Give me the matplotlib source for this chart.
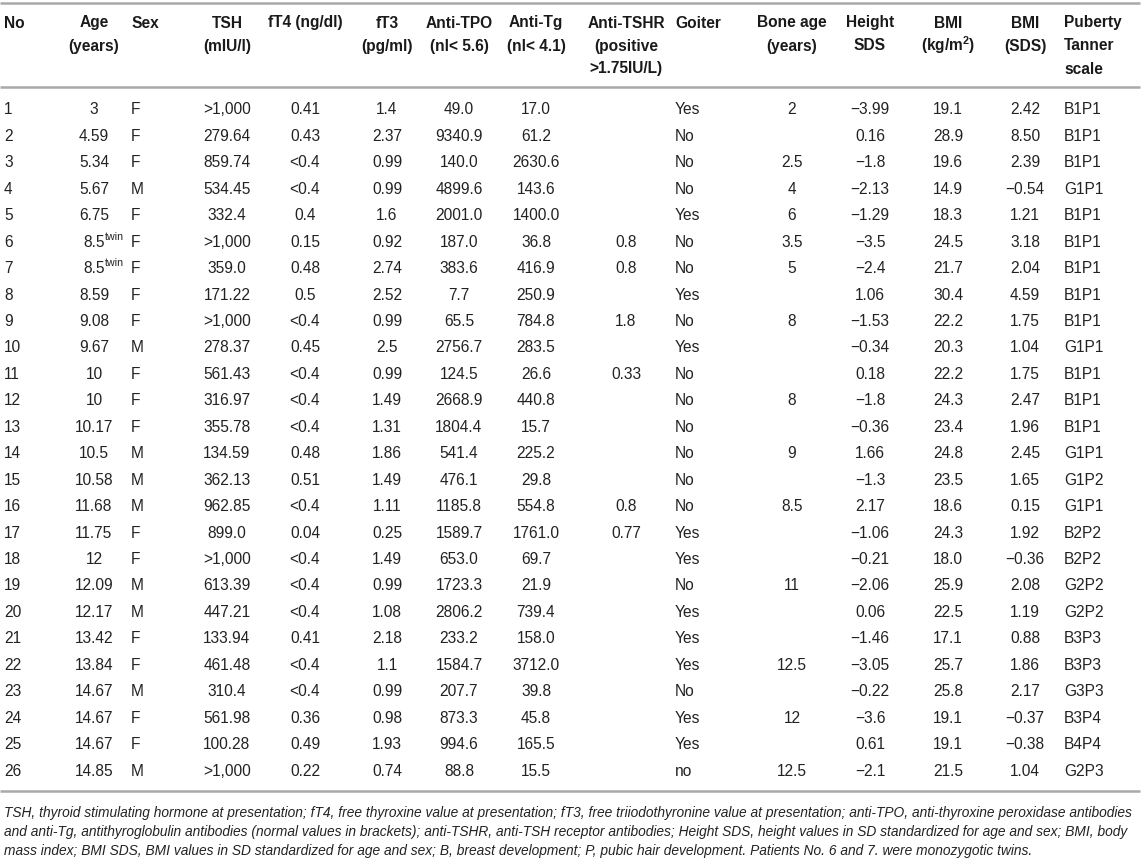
import matplotlib
matplotlib.use("Agg")
import matplotlib.pyplot as plt

plt.rcParams['font.family'] = ['Liberation Sans', 'DejaVu Sans']
plt.rcParams['mathtext.fontset'] = 'custom'
plt.rcParams['mathtext.rm'] = 'Liberation Sans'
plt.rcParams['mathtext.bf'] = 'Liberation Sans:bold'
plt.rcParams['mathtext.it'] = 'Liberation Sans:italic'

# table data, one list per column
no = [str(i) for i in range(1, 27)]
age = ["3", "4.59", "5.34", "5.67", "6.75", "8.5", "8.5", "8.59", "9.08", "9.67", "10", "10",
       "10.17", "10.5", "10.58", "11.68", "11.75", "12", "12.09", "12.17", "13.42", "13.84",
       "14.67", "14.67", "14.67", "14.85"]
age_note = ["", "", "", "", "", "twin", "twin", "", "", "", "", "", "", "", "", "", "", "", "",
            "", "", "", "", "", "", ""]
sex = ["F", "F", "F", "M", "F", "F", "F", "F", "F", "M", "F", "F", "F", "M", "M", "M",
       "F", "F", "M", "M", "F", "F", "M", "F", "F", "M"]
tsh = [">1,000", "279.64", "859.74", "534.45", "332.4", ">1,000", "359.0", "171.22", ">1,000",
       "278.37", "561.43", "316.97", "355.78", "134.59", "362.13", "962.85", "899.0", ">1,000",
       "613.39", "447.21", "133.94", "461.48", "310.4", "561.98", "100.28", ">1,000"]
ft4 = ["0.41", "0.43", "<0.4", "<0.4", "0.4", "0.15", "0.48", "0.5", "<0.4", "0.45", "<0.4",
       "<0.4", "<0.4", "0.48", "0.51", "<0.4", "0.04", "<0.4", "<0.4", "<0.4", "0.41", "<0.4",
       "<0.4", "0.36", "0.49", "0.22"]
ft3 = ["1.4", "2.37", "0.99", "0.99", "1.6", "0.92", "2.74", "2.52", "0.99", "2.5", "0.99",
       "1.49", "1.31", "1.86", "1.49", "1.11", "0.25", "1.49", "0.99", "1.08", "2.18", "1.1",
       "0.99", "0.98", "1.93", "0.74"]
anti_tpo = ["49.0", "9340.9", "140.0", "4899.6", "2001.0", "187.0", "383.6", "7.7", "65.5",
            "2756.7", "124.5", "2668.9", "1804.4", "541.4", "476.1", "1185.8", "1589.7", "653.0",
            "1723.3", "2806.2", "233.2", "1584.7", "207.7", "873.3", "994.6", "88.8"]
anti_tg = ["17.0", "61.2", "2630.6", "143.6", "1400.0", "36.8", "416.9", "250.9", "784.8",
           "283.5", "26.6", "440.8", "15.7", "225.2", "29.8", "554.8", "1761.0", "69.7", "21.9",
           "739.4", "158.0", "3712.0", "39.8", "45.8", "165.5", "15.5"]
anti_tshr = ["", "", "", "", "", "0.8", "0.8", "", "1.8", "", "0.33", "", "", "", "", "0.8",
             "0.77", "", "", "", "", "", "", "", "", ""]
goiter = ["Yes", "No", "No", "No", "Yes", "No", "No", "Yes", "No", "Yes", "No", "No", "No",
          "No", "No", "No", "Yes", "Yes", "No", "Yes", "Yes", "Yes", "No", "Yes", "Yes", "no"]
bone_age = ["2", "", "2.5", "4", "6", "3.5", "5", "", "8", "", "", "8", "", "9", "", "8.5",
            "", "", "11", "", "", "12.5", "", "12", "", "12.5"]
height_sds = ["\u22123.99", "0.16", "\u22121.8", "\u22122.13", "\u22121.29", "\u22123.5",
              "\u22122.4", "1.06", "\u22121.53", "\u22120.34", "0.18", "\u22121.8", "\u22120.36",
              "1.66", "\u22121.3", "2.17", "\u22121.06", "\u22120.21", "\u22122.06", "0.06",
              "\u22121.46", "\u22123.05", "\u22120.22", "\u22123.6", "0.61", "\u22122.1"]
bmi = ["19.1", "28.9", "19.6", "14.9", "18.3", "24.5", "21.7", "30.4", "22.2", "20.3", "22.2",
       "24.3", "23.4", "24.8", "23.5", "18.6", "24.3", "18.0", "25.9", "22.5", "17.1", "25.7",
       "25.8", "19.1", "19.1", "21.5"]
bmi_sds = ["2.42", "8.50", "2.39", "\u22120.54", "1.21", "3.18", "2.04", "4.59", "1.75", "1.04",
           "1.75", "2.47", "1.96", "2.45", "1.65", "0.15", "1.92", "\u22120.36", "2.08", "1.19",
           "0.88", "1.86", "2.17", "\u22120.37", "\u22120.38", "1.04"]
puberty = ["B1P1", "B1P1", "B1P1", "G1P1", "B1P1", "B1P1", "B1P1", "B1P1", "B1P1", "G1P1",
           "B1P1", "B1P1", "B1P1", "G1P1", "G1P2", "G1P1", "B2P2", "B2P2", "G2P2", "G2P2",
           "B3P3", "B3P3", "G3P3", "B3P4", "B4P4", "G2P3"]

headers = [["No"], ["Age", "(years)"], ["Sex"], ["TSH", "(mIU/l)"], ["fT4 (ng/dl)"],
           ["fT3", "(pg/ml)"], ["Anti-TPO", "(nl< 5.6)"], ["Anti-Tg", "(nl< 4.1)"],
           ["Anti-TSHR", "(positive", ">1.75IU/L)"], ["Goiter"], ["Bone age", "(years)"],
           ["Height", "SDS"], ["BMI", r"(kg/m$^{\mathbf{2}}$)"], ["BMI", "(SDS)"],
           ["Puberty", "Tanner", "scale"]]

footnote = [
    "TSH, thyroid stimulating hormone at presentation; fT4, free thyroxine value at presentation; "
    "fT3, free triiodothyronine value at presentation; anti-TPO, anti-thyroxine peroxidase antibodies",
    "and anti-Tg, antithyroglobulin antibodies (normal values in brackets); anti-TSHR, anti-TSH "
    "receptor antibodies; Height SDS, height values in SD standardized for age and sex; BMI, body",
    "mass index; BMI SDS, BMI values in SD standardized for age and sex; B, breast development; "
    "P, pubic hair development. Patients No. 6 and 7. were monozygotic twins.",
]

columns = [no, age, sex, tsh, ft4, ft3, anti_tpo, anti_tg, anti_tshr, goiter, bone_age,
           height_sds, bmi, bmi_sds, puberty]

# layout in pixels
col_x = [4, 94, 131, 227, 305, 387, 459, 536, 626, 675, 792, 870, 948, 1025, 1064]
col_ha = ['left', 'center', 'left', 'center', 'center', 'center', 'center', 'center',
          'center', 'left', 'center', 'center', 'center', 'center', 'left']
W, H = 1143, 858
fs = 11.2
rule_color = '#a9a9a9'

fig = plt.figure(figsize=(W / 100, H / 100), dpi=100)
ax = fig.add_axes([0, 0, 1, 1])
ax.set_xlim(0, W)
ax.set_ylim(H, 0)
ax.axis('off')
renderer = fig.canvas.get_renderer()

# rules
ax.hlines([3, 87, 791], 0, 1140, color=rule_color, lw=1.8)

# header
head_y = [22, 45, 68]
for x, ha, lines in zip(col_x, col_ha, headers):
    for k, line in enumerate(lines):
        ax.text(x, head_y[k] + 5.5, line, ha=ha, va='baseline', fontsize=fs,
                fontweight='bold', color='#1a1a1a')

# body
row0, row_step = 109, 26.44
for x, ha, col in zip(col_x, col_ha, columns):
    for i, val in enumerate(col):
        if val:
            ax.text(x, row0 + i * row_step + 5.5, val, ha=ha, va='baseline',
                    fontsize=fs, color='#222222')

# superscript notes right after the age value
for i, note in enumerate(age_note):
    if note:
        t = ax.text(col_x[1], row0 + i * row_step + 5.5, age[i], ha='center',
                    va='baseline', fontsize=fs, color='none')
        x1 = t.get_window_extent(renderer).x1
        ax.text(x1 + 0.5, row0 + i * row_step - 1.5, note, ha='left', va='baseline',
                fontsize=fs * 0.68, color='#222222')

# footnote, sized so the first line fills the width
foot_y = [812, 831.5, 851]
t0 = ax.text(4, foot_y[0] + 4.5, footnote[0], ha='left', va='baseline', fontsize=10,
             style='italic', color='#222222')
w0 = t0.get_window_extent(renderer).width
foot_fs = 10 * 1134 / w0
t0.set_fontsize(foot_fs)
for k in range(1, 3):
    ax.text(4, foot_y[k] + 4.5, footnote[k], ha='left', va='baseline', fontsize=foot_fs,
            style='italic', color='#222222')

fig.savefig('out.png', dpi=100)
